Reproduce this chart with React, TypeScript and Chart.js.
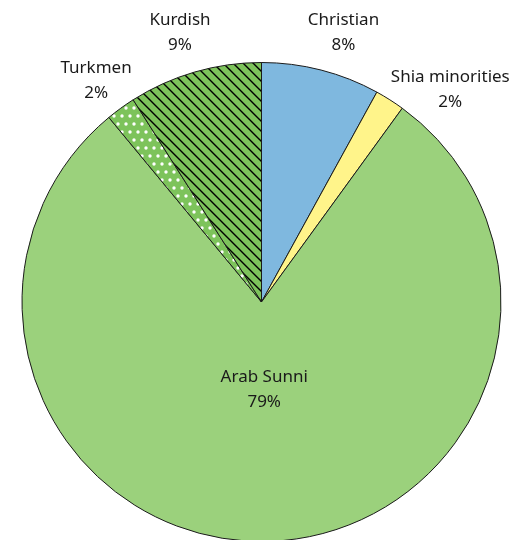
import React, { useEffect, useRef } from "react";
import { Chart, registerables } from "chart.js";

Chart.register(...registerables);

const categories = ["Christian", "Shia minorities", "Arab Sunni", "Turkmen", "Kurdish"];
const shares = [8, 2, 79, 2, 9];
const percentLabels = ["8%", "2%", "79%", "2%", "9%"];

// label placement config (radius factor, nudges in px)
const LABEL_LAYOUT = [
  { k: 1.175, dx: 12, dy: 3 },
  { k: 1.175, dx: 38, dy: 25 },
  { k: 0.36, dx: 0, dy: 1 },
  { k: 1.175, dx: 0, dy: 6 },
  { k: 1.175, dx: -3, dy: 1 },
];

function makeHatch(): CanvasPattern | string {
  const c = document.createElement("canvas");
  c.width = 10;
  c.height = 10;
  const g = c.getContext("2d");
  if (!g) return "#7DC35B";
  g.fillStyle = "#7DC35B";
  g.fillRect(0, 0, 10, 10);
  g.strokeStyle = "#000";
  g.lineWidth = 1.4;
  g.beginPath();
  g.moveTo(-1, -1);
  g.lineTo(11, 11);
  g.moveTo(9, -1);
  g.lineTo(11, 1);
  g.moveTo(-1, 9);
  g.lineTo(1, 11);
  g.stroke();
  return g.createPattern(c, "repeat") || "#7DC35B";
}

function makeDots(): CanvasPattern | string {
  const c = document.createElement("canvas");
  c.width = 8;
  c.height = 16;
  const g = c.getContext("2d");
  if (!g) return "#7DC35B";
  g.fillStyle = "#7DC35B";
  g.fillRect(0, 0, 8, 16);
  g.fillStyle = "#fff";
  g.beginPath();
  g.arc(2, 4, 1.7, 0, Math.PI * 2);
  g.fill();
  g.beginPath();
  g.arc(6, 12, 1.7, 0, Math.PI * 2);
  g.fill();
  return g.createPattern(c, "repeat") || "#7DC35B";
}

const labelPlugin = {
  id: "sliceLabels",
  afterDatasetsDraw(chart: any) {
    const ctx = chart.ctx;
    const meta = chart.getDatasetMeta(0);
    ctx.save();
    ctx.font = '17px "Noto Sans", sans-serif';
    ctx.fillStyle = "#1a1a1a";
    ctx.textAlign = "center";
    ctx.textBaseline = "middle";
    meta.data.forEach((arc: any, i: number) => {
      const p = arc.getProps(["x", "y", "startAngle", "endAngle", "outerRadius"], true);
      const mid = (p.startAngle + p.endAngle) / 2;
      const L = LABEL_LAYOUT[i];
      const cx = p.x + Math.cos(mid) * p.outerRadius * L.k + L.dx;
      const cy = p.y + Math.sin(mid) * p.outerRadius * L.k + L.dy;
      ctx.fillText(categories[i], cx, cy - 12.5);
      ctx.fillText(percentLabels[i], cx, cy + 12.5);
    });
    ctx.restore();
  },
};

export default function App() {
  const ref = useRef<HTMLCanvasElement>(null);
  useEffect(() => {
    if (!ref.current) return;
    const colors = ["#7FB8DF", "#FFF48A", "#9BD17C", makeDots(), makeHatch()];
    const chart = new Chart(ref.current, {
      type: "pie",
      data: {
        labels: categories,
        datasets: [
          {
            data: shares,
            backgroundColor: colors as any,
            borderColor: "#1a1a1a",
            borderWidth: 1,
          },
        ],
      },
      options: {
        responsive: false,
        animation: false,
        devicePixelRatio: 1,
        layout: { padding: { top: 62, left: 21, right: 14, bottom: 18 } },
        plugins: { legend: { display: false }, tooltip: { enabled: false } },
      },
      plugins: [labelPlugin],
    });
    return () => chart.destroy();
  }, []);
  return (
    <div
      style={{
        position: "absolute",
        left: 0,
        top: 0,
        width: 516,
        height: 540,
        overflow: "hidden",
        background: "#fff",
      }}
    >
      <canvas ref={ref} width={516} height={560} style={{ display: "block" }} />
    </div>
  );
}
